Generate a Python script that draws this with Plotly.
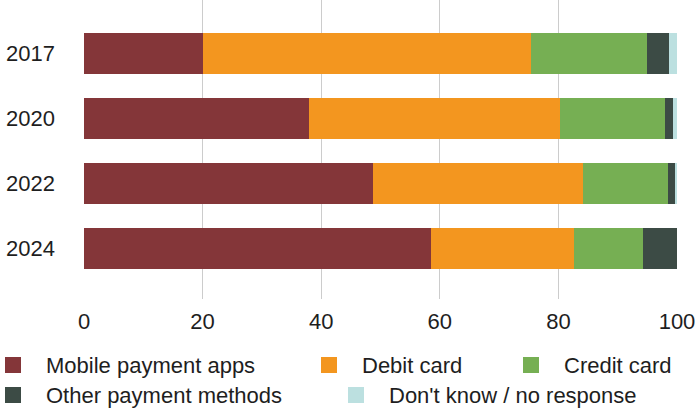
import plotly.graph_objects as go

# Share of respondents by payment method (%)
years = ["2017", "2020", "2022", "2024"]
mobile_apps = [20.0, 38.0, 48.8, 58.5]
debit_card = [55.3, 42.3, 35.4, 24.2]
credit_card = [19.7, 17.7, 14.2, 11.5]
other_methods = [3.7, 1.4, 1.2, 5.8]
dont_know = [1.3, 0.6, 0.4, 0.0]

series_names = ["Mobile payment apps", "Debit card", "Credit card",
                "Other payment methods", "Don't know / no response"]
series_values = [mobile_apps, debit_card, credit_card, other_methods, dont_know]
series_colors = ["#843639", "#F3961F", "#76AF53", "#3C4B45", "#BCE0E0"]

x_ticks = [0, 20, 40, 60, 80, 100]

W, H = 697, 410
ML, MR, MT, MB = 84, 20, 0, 111
PW, PH = W - ML - MR, H - MT - MB

FONT = "Liberation Sans"
TXT = "#1e1e1e"

fig = go.Figure()
for name, vals, col in zip(series_names, series_values, series_colors):
    fig.add_trace(go.Bar(
        y=years, x=vals, name=name, orientation="h",
        marker=dict(color=col, line=dict(width=0)),
        showlegend=False,
    ))

# Legend drawn as squares + labels in two flowing rows
legend_pos = [(5, 365), (321, 365), (523, 365), (5, 395), (348, 395)]
shapes, annotations = [], []
for (px, py), name, col in zip(legend_pos, series_names, series_colors):
    x0 = (px - ML) / PW
    x1 = (px + 16 - ML) / PW
    y0 = (PH - (py + 8 - MT)) / PH
    y1 = (PH - (py - 8 - MT)) / PH
    shapes.append(dict(type="rect", xref="paper", yref="paper",
                       x0=x0, x1=x1, y0=y0, y1=y1,
                       fillcolor=col, line=dict(width=0)))
    annotations.append(dict(xref="paper", yref="paper",
                            x=(px + 39 - ML) / PW, y=(PH - (py - MT)) / PH,
                            xanchor="left", yanchor="middle", showarrow=False,
                            text=name, font=dict(family=FONT, size=22, color=TXT)))

fig.update_layout(
    width=W, height=H,
    margin=dict(l=ML, r=MR, t=MT, b=MB, pad=0),
    barmode="stack", bargap=0.374,
    plot_bgcolor="white", paper_bgcolor="white",
    shapes=shapes, annotations=annotations,
    xaxis=dict(range=[0, 100], tickvals=x_ticks, showgrid=True,
               gridcolor="#cccccc", gridwidth=1, zeroline=False,
               showline=False, ticks="", ticklabelstandoff=7,
               tickfont=dict(family=FONT, size=22, color=TXT)),
    yaxis=dict(type="category", categoryorder="array", categoryarray=years,
               range=[3.78, -0.82], showgrid=False, zeroline=False,
               showline=False, ticks="", ticklabelstandoff=28,
               tickfont=dict(family=FONT, size=22, color=TXT)),
)

fig.write_html("out.html")
